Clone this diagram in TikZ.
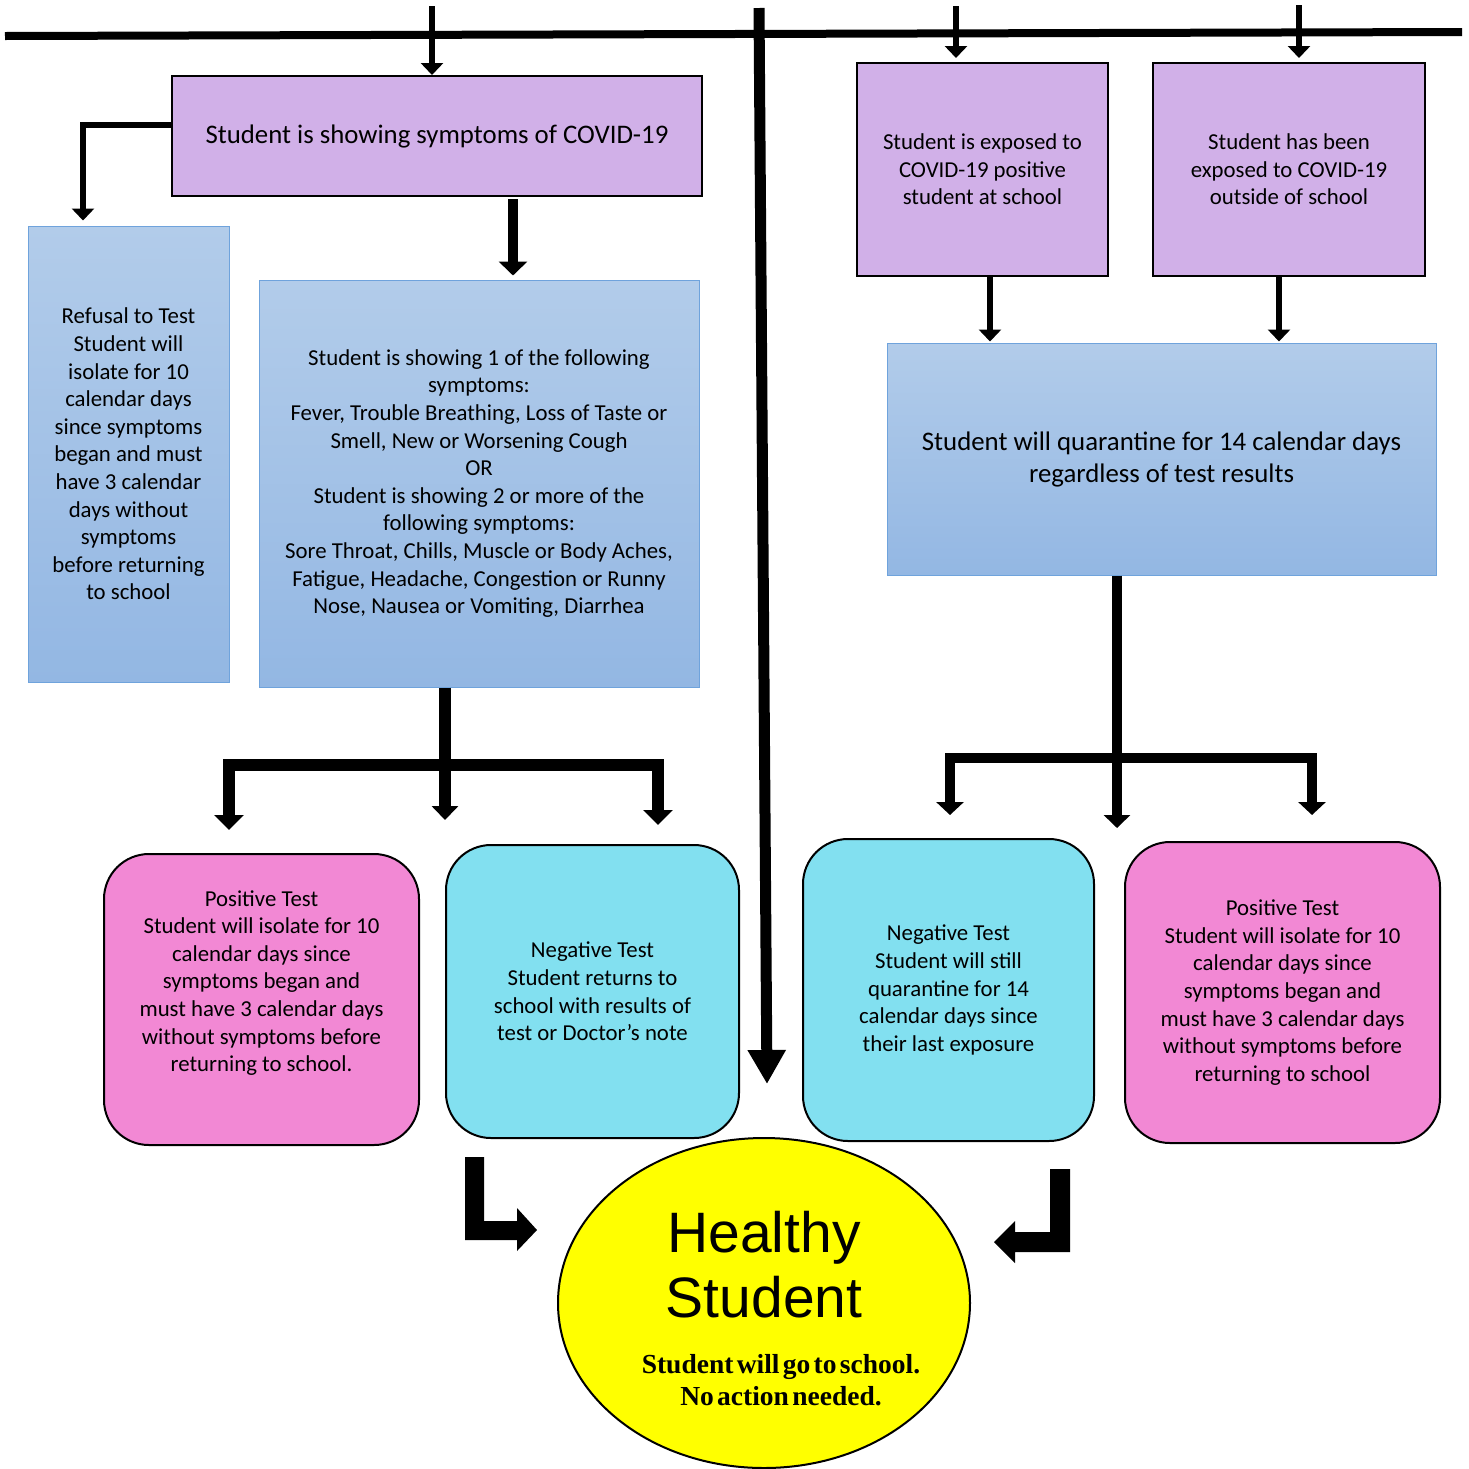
\documentclass[tikz,border=0pt]{standalone}
\usepackage{fontspec}
\setmainfont{Carlito}
\newfontfamily\arialf{Liberation Sans}
\newfontfamily\georgiaf{Liberation Serif}
\usetikzlibrary{arrows.meta,shapes.geometric,calc}
\setlength{\parindent}{0pt}
\definecolor{lav}{HTML}{D1B0E8}
\definecolor{bluetop}{HTML}{B2CCEA}
\definecolor{bluebot}{HTML}{93B7E3}
\definecolor{blueline}{HTML}{6FA3DC}
\definecolor{pinkf}{HTML}{F288D4}
\definecolor{cyanf}{HTML}{82E0F0}
\definecolor{yellowf}{HTML}{FFFF00}
\begin{document}
\begin{tikzpicture}[x=1pt,y=-1pt,
  bodyfont/.style={font=\fontsize{22.8}{27.6}\selectfont},
  lavbox/.style={draw=black, line width=2pt, fill=lav, inner sep=0pt, align=center, bodyfont},
  bluebox/.style={draw=blueline, line width=1pt, top color=bluetop, bottom color=bluebot, inner sep=0pt, align=center, bodyfont},
  rbox/.style={draw=black, line width=2pt, rounded corners=45pt, inner sep=0pt, align=center, bodyfont},
  pinkbox/.style={rbox, fill=pinkf},
  cyanbox/.style={rbox, fill=cyanf},
  boxtext/.style={inner sep=0pt, align=center, bodyfont},
  thinarr/.style={line width=6pt, -{Triangle[width=22pt,length=12pt]}},
  medarr/.style={line width=10pt, -{Triangle[width=28pt,length=14pt]}},
  bigarr/.style={line width=11pt, -{Triangle[width=36pt,length=34pt]}},
  treeone/.style={line width=12pt, line join=miter},
  treetwo/.style={line width=10pt, line join=miter},
  tipA/.tip={Triangle[width=29pt,length=15pt]},
  tipB/.tip={Triangle[width=27pt,length=13pt]}
]
\useasboundingbox (0,0) rectangle (1469,1468);

% boxes
\node[lavbox, minimum width=530pt, minimum height=120pt, font=\fontsize{26.8}{32}\selectfont] (sym) at (437,136) {Student is showing symptoms of COVID-19};
\node[bluebox, minimum width=201pt, minimum height=456pt] (refusal) at (128.5,454) {Refusal to Test\\Student will\\isolate for 10\\calendar days\\since symptoms\\began and must\\have 3 calendar\\days without\\symptoms\\before returning\\to school};
\node[bluebox, minimum width=440pt, minimum height=407pt] (main) at (479,483.5) {Student is showing 1 of the following\\symptoms:\\Fever, Trouble Breathing, Loss of Taste or\\Smell, New or Worsening Cough\\OR\\Student is showing 2 or more of the\\following symptoms:\\Sore Throat, Chills, Muscle or Body Aches,\\Fatigue, Headache, Congestion or Runny\\Nose, Nausea or Vomiting, Diarrhea};
\node[lavbox, minimum width=251pt, minimum height=213pt] (exp1) at (982.5,169.5) {Student is exposed to\\COVID-19 positive\\student at school};
\node[lavbox, minimum width=272pt, minimum height=213pt] (exp2) at (1289,169.5) {Student has been\\exposed to COVID-19\\outside of school};
\node[bluebox, minimum width=549pt, minimum height=232pt, font=\fontsize{26.8}{32}\selectfont] (quar) at (1161.5,459) {Student will quarantine for 14 calendar days\\regardless of test results};

\node[pinkbox, minimum width=315pt, minimum height=291pt] (pos1) at (261.5,999.5) {};
\node[boxtext] (pos1t) at (261.5,983) {Positive Test\\Student will isolate for 10\\calendar days since\\symptoms began and\\must have 3 calendar days\\without symptoms before\\returning to school.};
\node[cyanbox, minimum width=293pt, minimum height=293pt] (neg1) at (592.5,991.5) {Negative Test\\Student returns to\\school with results of\\test or Doctor’s note};
\node[cyanbox, minimum width=291pt, minimum height=302pt] (neg2) at (948.5,990) {Negative Test\\Student will still\\quarantine for 14\\calendar days since\\their last exposure};
\node[pinkbox, minimum width=315pt, minimum height=301pt] (pos2) at (1282.5,992.5) {Positive Test\\Student will isolate for 10\\calendar days since\\symptoms began and\\must have 3 calendar days\\without symptoms before\\returning to school};

\node[ellipse, draw=black, line width=2pt, fill=yellowf, minimum width=412pt, minimum height=330pt, inner sep=0pt] (healthy) at (764,1303) {};
\node[text width=440pt, align=center, inner sep=0pt] (htext) at (764,1308.5) {\arialf\fontsize{57}{65}\selectfont Healthy\par Student\par\vspace{24pt}\georgiaf\bfseries\fontsize{27.5}{32}\selectfont\hspace*{34pt}Student will go to school.\par\hspace*{34pt}No action needed.\par};

% top line
\coordinate (tl) at (5,36);
\coordinate (tr) at (1462,32);
\draw[line width=8pt] (tl) -- (tr);

% arrows from top
\coordinate (s1) at (432,6);
\draw[thinarr] (s1) -- (s1 |- sym.north);
\coordinate (s2) at (956,6);
\draw[thinarr, shorten >=4pt] (s2) -- (s2 |- exp1.north);
\coordinate (s3) at (1299,5);
\draw[thinarr, shorten >=4pt] (s3) -- (s3 |- exp2.north);

% big vertical arrow
\coordinate (vtop) at (759,8);
\draw[bigarr] (vtop) -- ([xshift=3pt,yshift=53pt]healthy.north);

% symptoms box connectors
\coordinate (symw) at ([yshift=11pt]sym.west);
\coordinate (refn) at ([xshift=-45.5pt]refusal.north);
\draw[thinarr, shorten >=5pt] (symw) -| (refn);
\coordinate (symb) at ([xshift=76pt]sym.south);
\draw[medarr, shorten <=2pt, shorten >=4pt] (symb) -- (symb |- main.north);

% exposure connectors
\coordinate (e1b) at ([xshift=7.5pt]exp1.south);
\draw[thinarr, shorten >=1pt] (e1b) -- (e1b |- quar.north);
\coordinate (e2b) at ([xshift=-10pt]exp2.south);
\draw[thinarr, shorten >=1pt] (e2b) -- (e2b |- quar.north);

% left tree
\coordinate (mb) at ([xshift=-34pt]main.south);
\coordinate (lt1) at (229,830);
\coordinate (lt2) at (658,765);
\coordinate (lt3) at (658,825);
\coordinate (ltm) at (445,820);
\draw[treeone, -{Triangle[width=26pt,length=14pt]}] (mb) -- (ltm);
\draw[treeone, tipA-tipA] (lt1) |- (lt2) -- (lt3);

% right tree
\coordinate (qb) at ([xshift=-44.5pt]quar.south);
\coordinate (rtm) at (1117,828);
\coordinate (rt1) at (950,815);
\coordinate (rt2) at (1312,758);
\coordinate (rt3) at (1312,815);
\draw[treetwo, -{Triangle[width=26pt,length=13pt]}] (qb) -- (rtm);
\draw[treetwo, tipB-tipB] (rt1) |- (rt2) -- (rt3);

% bent block arrows
\fill[black] (465,1157) -- (484,1157) -- (484,1221) -- (517,1221) -- (517,1208) -- (537,1230) -- (517,1251) -- (517,1240) -- (465,1240) -- cycle;
\fill[black] (1050,1169) -- (1070,1169) -- (1070,1252) -- (1015,1252) -- (1015,1263) -- (994,1242) -- (1015,1221) -- (1015,1232) -- (1050,1232) -- cycle;
\end{tikzpicture}
\end{document}
